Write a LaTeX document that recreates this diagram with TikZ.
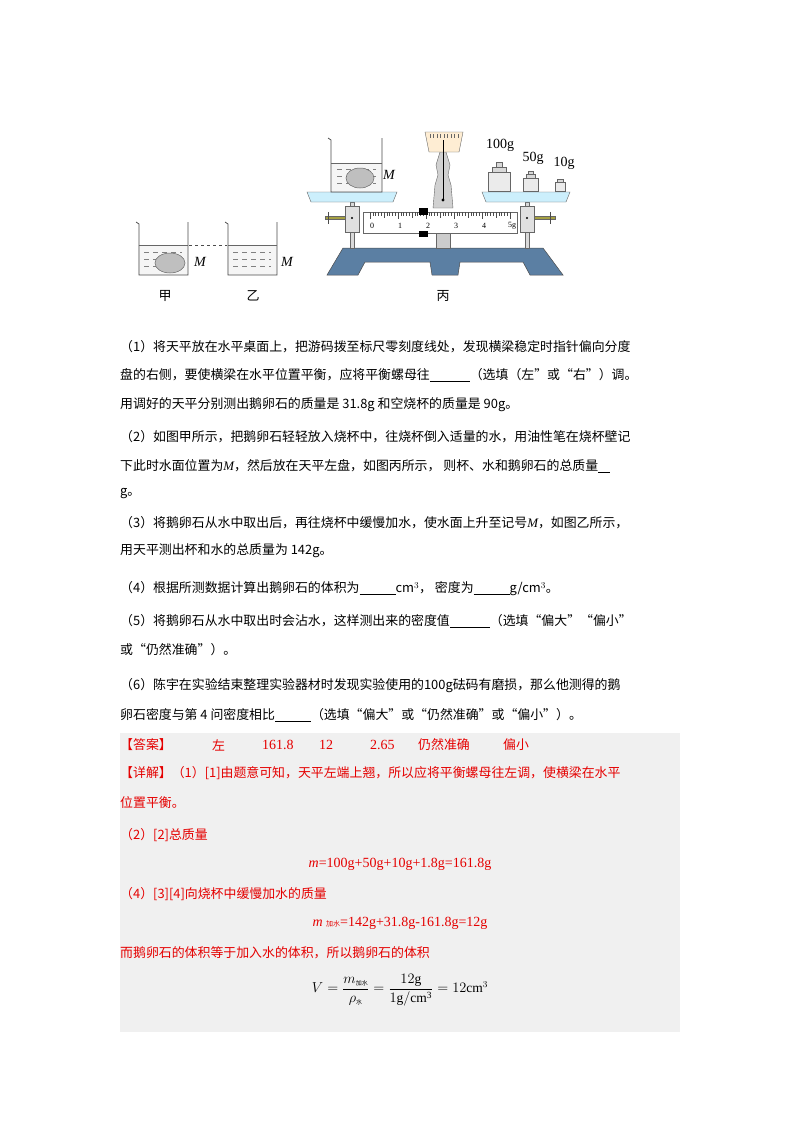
\documentclass[tikz,border=0pt]{standalone}
\usepackage{amsmath}
\usepackage{fontspec}
\setmainfont{Liberation Serif}
\newfontfamily\cjk{Noto Sans CJK SC}
\begin{document}
\begin{tikzpicture}[x=1pt,y=-1pt,
  txt/.style={anchor=west,inner sep=0pt,font=\cjk\fontsize{12.9}{14}\selectfont},
  red/.style={txt,text=red!90!black},
  lbl/.style={inner sep=0pt,font=\fontsize{14}{15}\selectfont},
  bk/.style={draw=black!70,line width=0.7pt},
  stone/.style={fill=black!25,draw=black!60,line width=0.5pt}]
\useasboundingbox (0,0) rectangle (800,1132);
\fill[white] (0,0) rectangle (800,1132);
\newcommand{\bl}[1]{\rule[-2pt]{#1}{0.7pt}}
\newcommand{\Mi}{{\rmfamily\itshape M}}
% ---- beakers jia / yi
\foreach \x/\nm in {138/a,227/b}{
  \fill[black!4] (\x,245) rectangle (\x+50,275);
  \foreach \i in {0,1,2}{\draw[black!50,dash pattern=on 5pt off 4pt] (\x+6,252+\i*7) -- (\x+44,252+\i*7);}
  \draw[bk] (\x-2,222) -- (\x+1,224) -- (\x+1,275) -- (\x+50,275) -- (\x+50,222);
  \draw[black!60] (\x+1,245) -- (\x+50,245);
}
\fill[stone] (170,263) ellipse (15 and 10);
\draw[black!70,dashed] (189,245) -- (227,245);
\node[lbl,font=\itshape\fontsize{14}{15}\selectfont] (Ma) at (200,262) {M};
\node[lbl,font=\itshape\fontsize{14}{15}\selectfont] (Mb) at (287,262) {M};
\node[lbl,font=\cjk\fontsize{13}{14}\selectfont] (jia) at (165,296) {甲};
\node[lbl,font=\cjk\fontsize{13}{14}\selectfont] (yi) at (253,296) {乙};
\node[lbl,font=\cjk\fontsize{13}{14}\selectfont] (bing) at (443,296) {丙};
% ---- balance base
\definecolor{basec}{HTML}{5B7FA3}
\fill[fill=basec,draw=black!70,line width=0.5pt]
  (343,248) -- (543,248) -- (563,275) -- (530,275) -- (523,262) -- (460,262) -- (458,275) -- (432,275) -- (430,262) -- (365,262) -- (358,275) -- (327,275) -- cycle;
% pillar
\fill[black!20,draw=black!60] (436,233) rectangle (450,248);
\fill[black!18,draw=black!60] (433,208) -- (435,185) -- (438,175) -- (436,165) -- (440,152) -- (446,152) -- (450,165) -- (448,175) -- (451,185) -- (453,208) -- cycle;
\fill[yellow!15!orange!15,draw=black!60] (425,132) -- (463,132) -- (459,152) -- (429,152) -- cycle;
\foreach \t in {0,...,8}{\draw[black!60,line width=0.3pt] (430+\t*3.5,134) -- (430+\t*3.5,138);}
\draw[black,line width=0.8pt] (443,140) -- (443,199);
\fill[black] (443,200) circle (1.7);
% supports
\foreach \x in {352,527}{
  \fill[black!15,draw=black!60] (\x-2,202) rectangle (\x+2,248);
  \fill[black!12,draw=black!60] (\x-7,206) rectangle (\x+7,232);
  \fill[black] (\x,218) circle (1.2);
}
\fill[yellow!60!black,draw=black!60] (325,216.5) rectangle (345,219.5);
\fill[yellow!60!black,draw=black!60] (534,216.5) rectangle (555,219.5);
\draw[black!70,line width=1pt] (328,212) -- (328,224);
\draw[black!70,line width=1pt] (550,212) -- (550,224);
% beam
\fill[white,draw=black!60] (363,212) rectangle (517,233);
\foreach \t in {0,...,50}{\draw[black!70,line width=0.3pt] (370+\t*2.8,212) -- (370+\t*2.8,{212+ifthenelse(mod(\t,10)==0,7,ifthenelse(mod(\t,5)==0,5.5,3.5))});}
\foreach \n in {0,...,4}{\node[lbl,font=\fontsize{8}{9}\selectfont] at (372+\n*28,226) {\n};}
\node[lbl,font=\fontsize{8}{9}\selectfont] at (512,226) {5g};
\fill[black] (419,208) rectangle (428,215);
\fill[black] (419,231) rectangle (428,237);
% pans
\foreach \a/\b in {307/397,482/570}{
  \fill[cyan!20,draw=black!60] (\a,192) -- (\b,192) -- (\b-4,202) -- (\a+4,202) -- cycle;}
% left beaker on pan
\fill[black!4] (331,163) rectangle (382,192);
\foreach \i in {0,1,2}{\draw[black!50,dash pattern=on 5pt off 4pt] (337,169+\i*7) -- (376,169+\i*7);}
\fill[stone] (360,178) ellipse (14 and 10);
\draw[bk] (328,138) -- (331,140) -- (331,192) -- (382,192) -- (382,138);
\draw[black!60] (331,163) -- (382,163);
\node[lbl,font=\itshape\fontsize{14}{15}\selectfont] (Mc) at (389,175) {M};
% weights
\fill[black!8,draw=black!60] (488,172) rectangle (510,191);
\fill[black!15,draw=black!60] (492,167) rectangle (506,172);
\fill[black!15,draw=black!60] (496,162) rectangle (502,167);
\fill[black!8,draw=black!60] (523,178) rectangle (538,191);
\fill[black!15,draw=black!60] (526,174) rectangle (535,178);
\fill[black!15,draw=black!60] (528,171) rectangle (533,174);
\fill[black!8,draw=black!60] (555,182) rectangle (565,191);
\fill[black!15,draw=black!60] (557,179) rectangle (563,182);
\node[lbl] (w1) at (500,145) {100g};
\node[lbl] (w2) at (533,158) {50g};
\node[lbl] (w3) at (564,163) {10g};
% ---- question text
\node[txt] (q1) at (120,347) {（1）将天平放在水平桌面上，把游码拨至标尺零刻度线处，发现横梁稳定时指针偏向分度};
\node[txt] (q1b) at (120,375) {盘的右侧，要使横梁在水平位置平衡，应将平衡螺母往\bl{40pt}（选填（左”或“右”）调。};
\node[txt] (q1c) at (120,405) {用调好的天平分别测出鹅卵石的质量是 31.8g 和空烧杯的质量是 90g。};
\node[txt] (q2) at (120,437) {（2）如图甲所示，把鹅卵石轻轻放入烧杯中，往烧杯倒入适量的水，用油性笔在烧杯壁记};
\node[txt] (q2b) at (120,466) {下此时水面位置为\Mi，然后放在天平左盘，如图丙所示， 则杯、水和鹅卵石的总质量\bl{12pt}};
\node[txt] (q2c) at (120,494) {g。};
\node[txt] (q3) at (120,523) {（3）将鹅卵石从水中取出后，再往烧杯中缓慢加水，使水面上升至记号\Mi，如图乙所示，};
\node[txt] (q3b) at (120,551) {用天平测出杯和水的总质量为 142g。};
\node[txt] (q4) at (120,589) {（4）根据所测数据计算出鹅卵石的体积为\bl{36pt}cm$^3$， 密度为\bl{36pt}g/cm$^3$。};
\node[txt] (q5) at (120,621) {（5）将鹅卵石从水中取出时会沾水，这样测出来的密度值\bl{40pt}（选填“偏大”“偏小”};
\node[txt] (q5b) at (120,650) {或“仍然准确”）。};
\node[txt] (q6) at (120,686) {（6）陈宇在实验结束整理实验器材时发现实验使用的100g砝码有磨损，那么他测得的鹅};
\node[txt] (q6b) at (120,715) {卵石密度与第 4 问密度相比\bl{36pt}（选填“偏大”或“仍然准确”或“偏小”）。};
% ---- answer box
\fill[black!6] (120,733) rectangle (680,1032);
\node[red] (a0) at (120,745) {【答案】};
\node[red] (a1) at (212,745) {左};
\node[red,font=\fontsize{14}{15}\selectfont] (a2) at (262,745) {161.8};
\node[red,font=\fontsize{14}{15}\selectfont] (a3) at (319,745) {12};
\node[red,font=\fontsize{14}{15}\selectfont] (a4) at (370,745) {2.65};
\node[red] (a5) at (418,745) {仍然准确};
\node[red] (a6) at (503,745) {偏小};
\node[red] (d1) at (120,773) {【详解】（1）[1]由题意可知，天平左端上翘，所以应将平衡螺母往左调，使横梁在水平};
\node[red] (d1b) at (120,803) {位置平衡。};
\node[red] (d2) at (120,835) {（2）[2]总质量};
\node[red,font=\fontsize{14}{15}\selectfont,anchor=center] (f1) at (400,864) {\textit{m}=100g+50g+10g+1.8g=161.8g};
\node[red] (d4) at (120,894) {（4）[3][4]向烧杯中缓慢加水的质量};
\node[red,font=\fontsize{14}{15}\selectfont,anchor=center] (f2) at (400,923) {\textit{m} {\cjk\fontsize{7}{8}\selectfont 加水}=142g+31.8g-161.8g=12g};
\node[red] (d5) at (120,953) {而鹅卵石的体积等于加入水的体积，所以鹅卵石的体积};
\node[inner sep=0pt,font=\fontsize{13.5}{15}\selectfont] (f3) at (400,990)
  {$V=\dfrac{m_{\hbox{\cjk\fontsize{6}{7}\selectfont 加水}}}{\rho_{\hbox{\cjk\fontsize{6}{7}\selectfont 水}}}=\dfrac{12\mathrm{g}}{1\mathrm{g/cm^3}}=12\mathrm{cm}^3$};
\end{tikzpicture}
\end{document}
